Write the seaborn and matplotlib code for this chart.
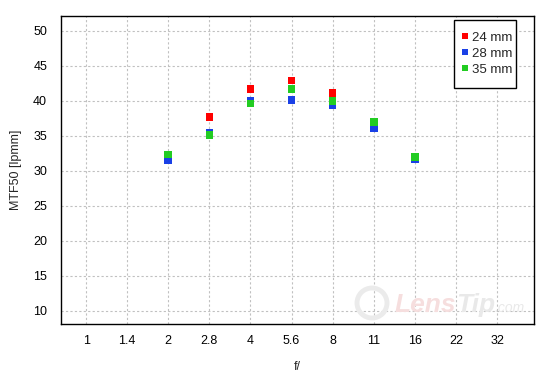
import matplotlib
matplotlib.use("Agg")
import matplotlib.pyplot as plt
import seaborn as sns
import pandas as pd
from matplotlib.ticker import MultipleLocator
from matplotlib.patches import Circle, Rectangle
from matplotlib.transforms import IdentityTransform

sns.set_style("white")
plt.rcParams['font.family'] = ['Liberation Sans', 'DejaVu Sans']

f_labels = ["1", "1.4", "2", "2.8", "4", "5.6", "8", "11", "16", "22", "32"]
data_f = ["2", "2.8", "4", "5.6", "8", "11", "16"]
mtf_24 = [31.9, 37.7, 41.7, 42.9, 41.1, 36.6, 31.7]
mtf_28 = [31.5, 35.4, 40.0, 40.1, 39.4, 36.1, 31.6]
mtf_35 = [32.3, 35.1, 39.6, 41.7, 40.0, 37.0, 32.0]
series = ["24 mm", "28 mm", "35 mm"]
colors = ["#ff0000", "#1a40e6", "#22cc22"]

rows = []
for name, vals in zip(series, [mtf_24, mtf_28, mtf_35]):
    for f, v in zip(data_f, vals):
        rows.append({"f": f_labels.index(f), "mtf": v, "lens": name})
df = pd.DataFrame(rows)

W, H = 550, 380
fig = plt.figure(figsize=(5.5, 3.8), dpi=100)
ax = fig.add_axes([61/W, (H-324)/H, (534-61)/W, (324-16)/H])

ax.grid(True, color="#c0c0c0", linestyle=(0, (2, 2)), linewidth=0.8)
ax.set_axisbelow(True)

# faint watermark
fig.patches.append(Circle((372, H-303), 15, transform=IdentityTransform(),
                          facecolor="none", edgecolor="#ebebeb", linewidth=3.5,
                          zorder=0.5))
fig.text(395/W, (H-312)/H, "Lens", fontsize=19, fontstyle="italic",
         fontweight="bold", color="#f6dede", ha="left", va="baseline", zorder=0.5)
fig.text(456/W, (H-312)/H, "Tip", fontsize=19, fontstyle="italic",
         fontweight="bold", color="#e9e9e9", ha="left", va="baseline", zorder=0.5)
fig.text(494/W, (H-312)/H, ".com", fontsize=10, fontstyle="italic",
         color="#e9e9e9", ha="left", va="baseline", zorder=0.5)

sns.scatterplot(data=df, x="f", y="mtf", hue="lens", hue_order=series,
                palette=colors, marker="s", s=30, linewidth=0, ax=ax, zorder=3)

ax.set_xlim(-0.61, 10.9)
ax.set_ylim(8.1, 52.1)
ax.set_xticks(range(len(f_labels)))
ax.set_xticklabels(f_labels)
ax.yaxis.set_minor_locator(MultipleLocator(1))
ax.set_yticks(range(10, 51, 5))
ax.tick_params(axis="both", which="major", direction="in", length=5, width=0.8,
               labelsize=9, colors="black", pad=8)
ax.tick_params(axis="y", which="minor", direction="in", length=3, width=0.8)
ax.tick_params(axis="y", which="major", pad=10)
for s in ax.spines.values():
    s.set_color("black")
    s.set_linewidth(1)

ax.set_xlabel("f/", fontsize=9, labelpad=10)
ax.set_ylabel("MTF50 [lpmm]", fontsize=9, labelpad=8)

# legend box (drawn separately for exact proportions)
ax.add_patch(Rectangle((454, H-88), 62, 68, transform=IdentityTransform(),
                       facecolor="white", edgecolor="black", linewidth=1,
                       zorder=4, clip_on=False))
leg = ax.legend(loc="upper right", bbox_to_anchor=(0.970, 0.974), frameon=False,
                fontsize=9.5, handletextpad=0.15,
                handlelength=0.8, borderpad=0.55, labelspacing=0.3,
                borderaxespad=0, markerscale=0.8, title=None)
leg.set_zorder(5)

fig.savefig("out.png", dpi=100)
